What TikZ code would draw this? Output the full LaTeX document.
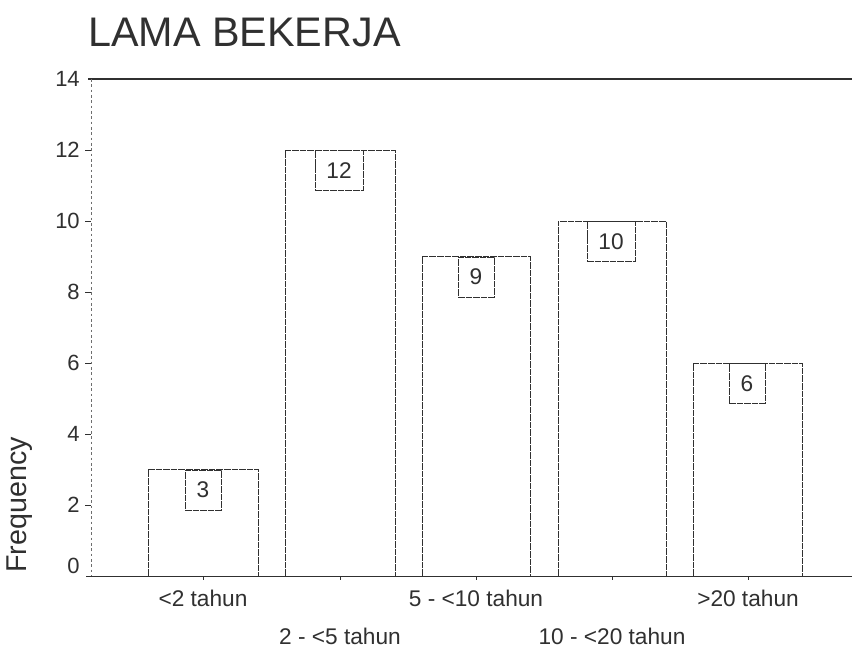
\documentclass[tikz,border=0pt]{standalone}
\usepackage{fontspec}
\setmainfont{Liberation Sans}
\definecolor{ink}{HTML}{303030}
\begin{document}
\begin{tikzpicture}[x=0.75pt,y=-0.75pt,
  barbox/.style={draw=ink, line width=0.7pt, dash pattern=on 5pt off 0.7pt},
  valbox/.style={draw=ink, line width=0.7pt, dash pattern=on 5pt off 0.7pt, anchor=north, minimum height=30pt, inner sep=0pt, font=\fontsize{17}{20}\selectfont, text=ink},
  ytick/.style={anchor=east, font=\fontsize{16.5}{19}\selectfont, text=ink, inner sep=0pt},
  xlab/.style={font=\fontsize{17}{20}\selectfont, text=ink, inner sep=0pt},
  axisline/.style={draw=ink, line width=0.7pt}
]
\useasboundingbox (0,0) rectangle (852,649);
\fill[white] (0,0) rectangle (852,649);

% title
\node[anchor=base west, inner sep=0pt, text=ink, font=\fontsize{31}{35}\selectfont] (title) at (88,47) {LAMA BEKERJA};

% axes
\coordinate (ytop) at (91,79);
\coordinate (ybot) at (91,576);
\coordinate (tl) at (88,79);
\coordinate (tr) at (852,79);
\coordinate (bl) at (86,576);
\coordinate (br) at (852,576);
\draw[axisline, line width=0.9pt] (tl) -- (tr);
\draw[axisline, draw=ink!70, dash pattern=on 2pt off 2pt] (ytop) -- (ybot);
\draw[axisline] (bl) -- (br);

% y ticks
\foreach \v/\yy in {14/79,12/150,10/221,8/292,6/363,4/434,2/505}{
  \node[ytick] (yl\v) at (80,\yy) {\v};
}
\node[ytick] (yl0) at (80,566) {0};
\foreach \yy in {150,221,292,363,434,505}{
  \draw[axisline] (85,\yy) -- (91,\yy);
}

% bars
\foreach \n/\xa/\xb/\yt in {1/148/258/469.5, 2/285/395/150, 3/422/530/256.5, 4/558/666/221, 5/693/802/363}{
  \draw[barbox] (\xa,576) rectangle (\xb,\yt);
}

% value boxes
\node[valbox, minimum width=27pt] (v1) at (203,469.5) {3};
\node[valbox, minimum width=36pt] (v2) at (339,150) {12};
\node[valbox, minimum width=27pt] (v3) at (476,256.5) {9};
\node[valbox, minimum width=36pt] (v4) at (611,221) {10};
\node[valbox, minimum width=27pt] (v5) at (747,363) {6};

% x ticks
\foreach \xx in {203,340,476,612,748}{
  \draw[axisline] (\xx,576) -- (\xx,580);
}

% x labels
\node[xlab] (x1) at (203,598) {<2 tahun};
\node[xlab] (x2) at (340,636) {2 - <5 tahun};
\node[xlab] (x3) at (476,598) {5 - <10 tahun};
\node[xlab] (x4) at (612,636) {10 - <20 tahun};
\node[xlab] (x5) at (748,598) {>20 tahun};

% y axis title
\node[rotate=90, text=ink, inner sep=0pt, font=\fontsize{21.5}{24}\selectfont] (ylab) at (20,505) {Frequency};
\end{tikzpicture}
\end{document}
